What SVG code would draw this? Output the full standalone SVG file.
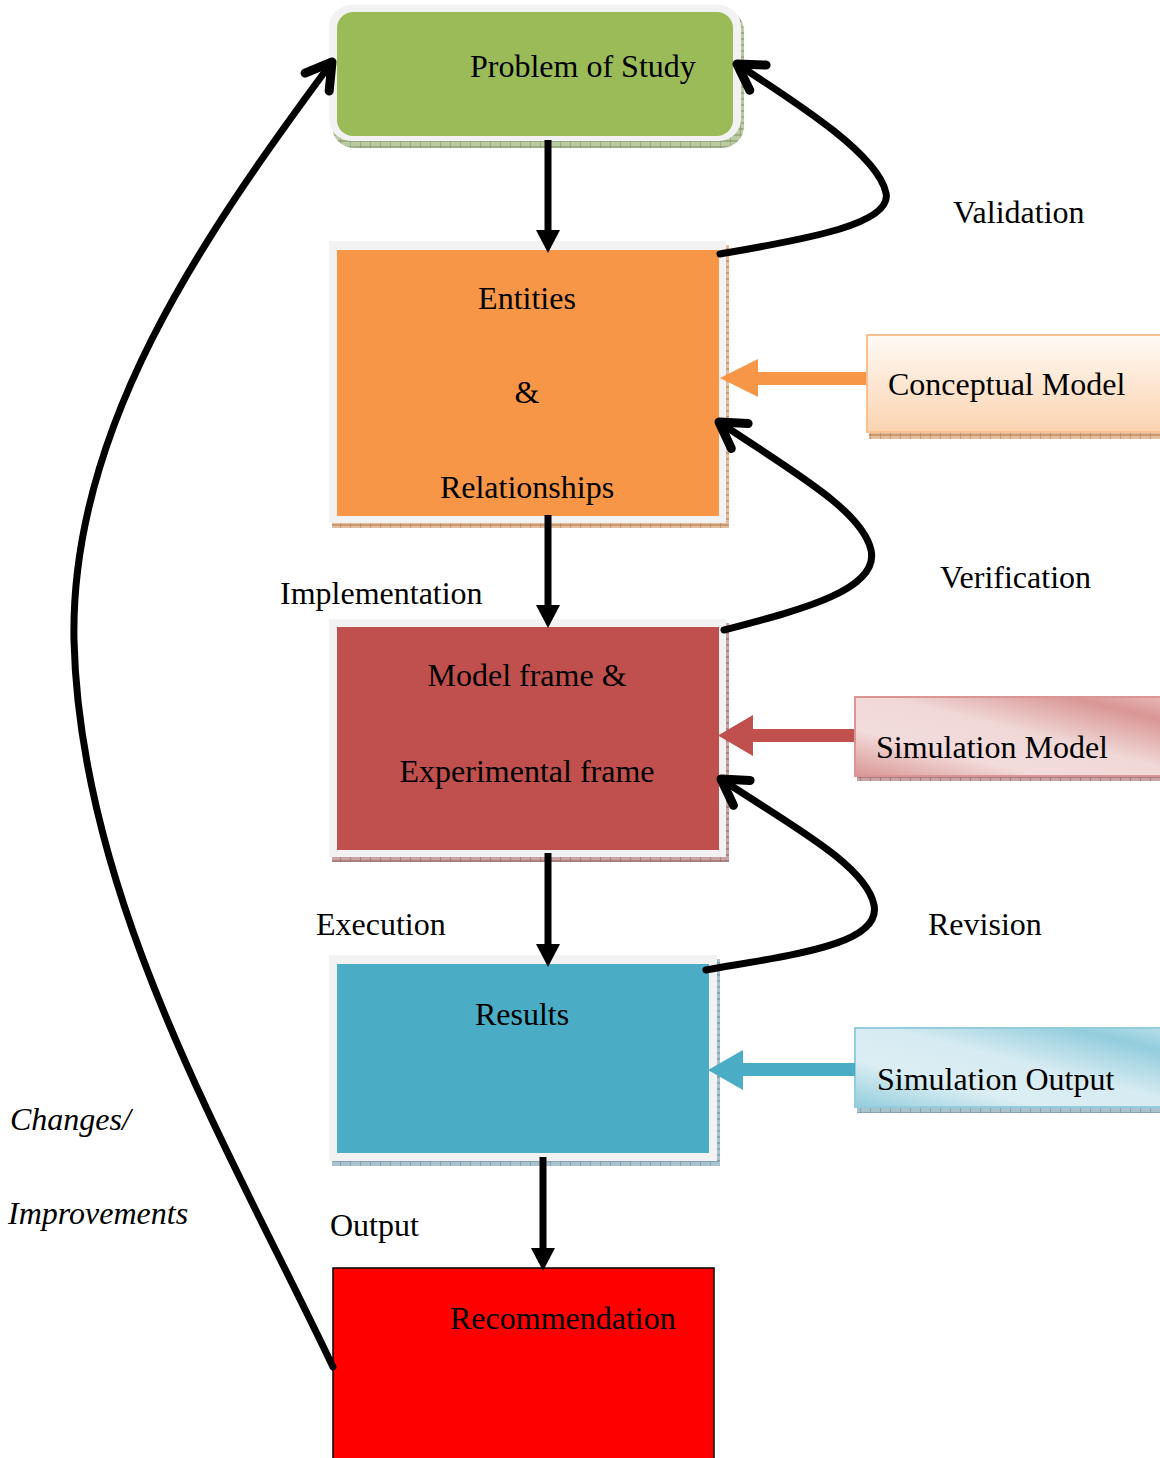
<svg xmlns="http://www.w3.org/2000/svg" width="1160" height="1458" viewBox="0 0 1160 1458">
<defs>
<style>
text{font-family:"Liberation Serif","Times New Roman",serif;font-size:32px;fill:#000}
.c{text-anchor:middle}
.it{font-style:italic}
.frame{fill:#f2f2f2}
.curve{fill:none;stroke:#000;stroke-width:7;stroke-linecap:round;marker-end:url(#open)}
.vert{fill:none;stroke:#000;stroke-width:7;marker-end:url(#tri)}
</style>
<marker id="open" markerUnits="userSpaceOnUse" markerWidth="60" markerHeight="60" viewBox="-40 -30 60 60" refX="0" refY="0" orient="auto" overflow="visible">
<path d="M-25,-15 L0,0 L-25,15" fill="none" stroke="#000" stroke-width="9" stroke-linecap="round" stroke-linejoin="round"/>
</marker>
<marker id="tri" markerUnits="userSpaceOnUse" markerWidth="40" markerHeight="40" viewBox="-5 -20 40 40" refX="0" refY="0" orient="auto" overflow="visible">
<path d="M-1,-12 L22,0 L-1,12 z" fill="#000"/>
</marker>
<pattern id="hg" width="10" height="6" patternUnits="userSpaceOnUse"><rect width="10" height="6" fill="#bccaa3"/><path d="M0,0V6M0,3H10" stroke="#7d9160" stroke-width="1"/></pattern>
<pattern id="ho" width="10" height="6" patternUnits="userSpaceOnUse"><rect width="10" height="6" fill="#e3bd9c"/><path d="M0,0V6M0,3H10" stroke="#b0784a" stroke-width="1"/></pattern>
<pattern id="hr" width="10" height="6" patternUnits="userSpaceOnUse"><rect width="10" height="6" fill="#caa3a3"/><path d="M0,0V6M0,3H10" stroke="#8d5c5c" stroke-width="1"/></pattern>
<pattern id="hb" width="10" height="6" patternUnits="userSpaceOnUse"><rect width="10" height="6" fill="#a9c3cc"/><path d="M0,0V6M0,3H10" stroke="#5f8796" stroke-width="1"/></pattern>
<linearGradient id="gO" x1="0" y1="0" x2="0" y2="1"><stop offset="0" stop-color="#fffaf5"/><stop offset="1" stop-color="#fbd3b0"/></linearGradient>
<linearGradient id="gR" x1="0" y1="1" x2="1" y2="0"><stop offset="0" stop-color="#d99694"/><stop offset="0.3" stop-color="#f2dcdb"/><stop offset="0.55" stop-color="#f0d8d7"/><stop offset="0.85" stop-color="#d99694"/><stop offset="1" stop-color="#e6b9b8"/></linearGradient>
<linearGradient id="gB" x1="0" y1="1" x2="1" y2="0"><stop offset="0" stop-color="#93cddd"/><stop offset="0.3" stop-color="#dbeef3"/><stop offset="0.55" stop-color="#d6ebf2"/><stop offset="0.85" stop-color="#93cddd"/><stop offset="1" stop-color="#b7dee8"/></linearGradient>
</defs>

<g id="problem">
<rect x="332" y="9" width="412" height="139" rx="22" fill="url(#hg)"/>
<rect x="329" y="5" width="412" height="136" rx="22" class="frame"/>
<rect x="337" y="12" width="396" height="124" rx="16" fill="#9bbb59"/>
<text x="470" y="77">Problem of Study</text>
</g>

<g id="entities">
<rect x="332" y="245" width="397" height="283" fill="url(#ho)"/>
<rect x="329" y="241" width="397" height="282" class="frame"/>
<rect x="337" y="250" width="382" height="266" fill="#f79646"/>
<text x="527" y="309" class="c">Entities</text>
<text x="527" y="403" class="c">&amp;</text>
<text x="527" y="498" class="c">Relationships</text>
</g>

<g id="model">
<rect x="332" y="623" width="397" height="239" fill="url(#hr)"/>
<rect x="329" y="619" width="397" height="238" class="frame"/>
<rect x="337" y="627" width="382" height="223" fill="#c0504d"/>
<text x="527" y="686" class="c">Model frame &amp;</text>
<text x="527" y="782" class="c">Experimental frame</text>
</g>

<g id="results">
<rect x="332" y="959" width="388" height="207" fill="url(#hb)"/>
<rect x="329" y="955" width="388" height="206" class="frame"/>
<rect x="337" y="964" width="372" height="189" fill="#4bacc6"/>
<text x="522" y="1025" class="c">Results</text>
</g>

<g id="recommendation">
<rect x="333" y="1268" width="381" height="200" fill="#ff0000" stroke="#000" stroke-width="1.5"/>
<text x="450" y="1329">Recommendation</text>
</g>

<g id="conceptual">
<rect x="869" y="433" width="300" height="6" fill="url(#ho)"/>
<rect x="867" y="335" width="300" height="97" fill="url(#gO)" stroke="#fac090" stroke-width="2"/>
<text x="888" y="395">Conceptual Model</text>
</g>

<g id="simmodel">
<rect x="857" y="776" width="310" height="5" fill="url(#hr)"/>
<rect x="855" y="697" width="310" height="79" fill="url(#gR)" stroke="#d99694" stroke-width="2"/>
<text x="876" y="758">Simulation Model</text>
</g>

<g id="simoutput">
<rect x="857" y="1107" width="310" height="6" fill="url(#hb)"/>
<rect x="855" y="1028" width="310" height="79" fill="url(#gB)" stroke="#93cddd" stroke-width="2"/>
<text x="877" y="1090">Simulation Output</text>
</g>

<g id="labels">
<text x="953" y="223">Validation</text>
<text x="940" y="588">Verification</text>
<text x="928" y="935">Revision</text>
<text x="280" y="604">Implementation</text>
<text x="316" y="935">Execution</text>
<text x="330" y="1236">Output</text>
<text x="10" y="1130" class="it">Changes/</text>
<text x="8" y="1224" class="it">Improvements</text>
</g>

<g id="connectors">
<path class="vert" d="M548,140 V231"/>
<path class="vert" d="M548,515 V606"/>
<path class="vert" d="M548,853 V945"/>
<path class="vert" d="M543,1157 V1249"/>
<path d="M866,372 H758 V359 L720,378 L758,397 V385 H866 z" fill="#f79646"/>
<path d="M854,729 H753 V715 L718,735.5 L753,756 V742 H854 z" fill="#c0504d"/>
<path d="M855,1063 H743 V1050 L708,1070 L743,1090 V1076 H855 z" fill="#4bacc6"/>
<path class="curve" d="M720,254 C800,240 893,225 886,193 C878,155 800,105 737,64"/>
<path class="curve" d="M724,630 C800,610 880,590 871,550 C862,510 790,470 719,422"/>
<path class="curve" d="M706,970 C790,955 882,945 874,905 C866,865 790,825 721,779"/>
<path class="curve" d="M333,1367 C230,1150 80,900 74,640 C70,430 200,240 332,62"/>
</g>
</svg>
